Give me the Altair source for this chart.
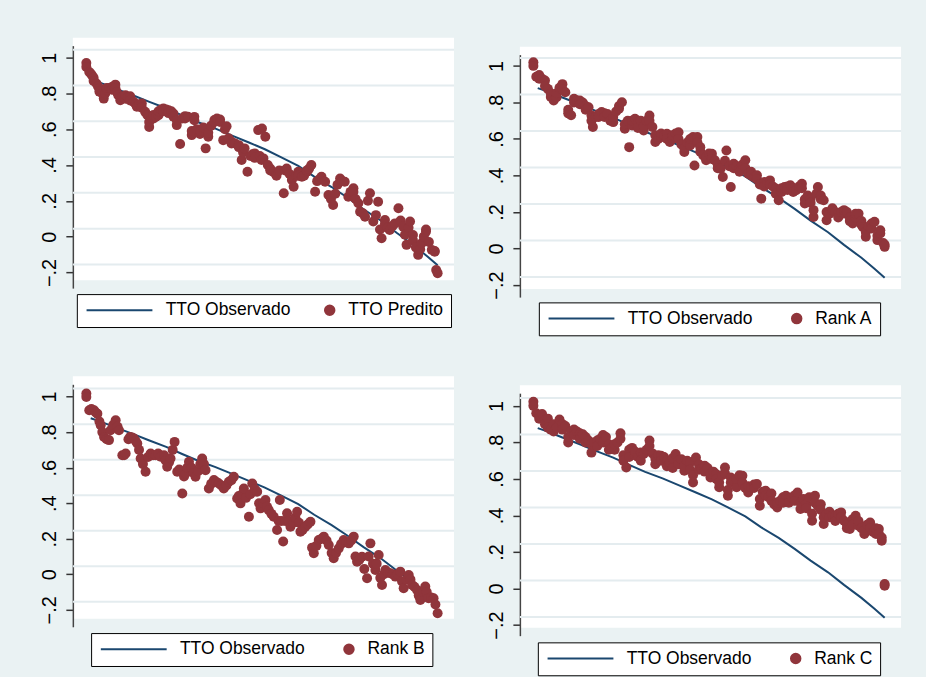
import altair as alt
import pandas as pd

BG = "#EAF2F3"
GRID = "#E4ECEF"
NAVY = "#1a476f"
MAROON = "#90353b"
FONT = "Liberation Sans"

tick_values = [-0.2, 0.0, 0.2, 0.4, 0.6, 0.8, 1.0]

# TTO observado (same observed series in every panel), by state rank
obs_rank = [4, 10, 21, 33, 44, 56, 67, 78, 90, 101, 113, 124, 135, 147, 158,
            170, 181, 192, 204, 215, 227, 236, 243]
obs_value = [0.878, 0.862, 0.827, 0.790, 0.754, 0.717, 0.677, 0.639, 0.603,
             0.566, 0.526, 0.488, 0.444, 0.395, 0.335, 0.277, 0.217, 0.153,
             0.089, 0.020, -0.051, -0.111, -0.160]

# Panel 1: TTO predito
p1_rank = [1, 1, 3, 4, 5, 6, 6, 8, 9, 10, 10, 12, 13, 14, 15, 15, 17, 18.6,
           18.6, 20, 21, 21, 22, 23, 24.4, 24.4, 26, 28, 28, 30, 31.2, 31.2,
           33.5, 35, 35.8, 37.5, 39.2, 39.2, 41.5, 43, 44.3, 44.3, 46, 47.3,
           47.3, 49, 50.7, 50.7, 52.5, 54.1, 54.1, 56, 57.6, 57.6, 59.5, 61,
           61, 63.3, 63.3, 65.6, 67, 69, 69, 71, 73.6, 73.6, 75.4, 75.4, 77,
           79.3, 79.3, 81.6, 83.2, 85, 85, 87, 89.2, 89.2, 91, 93.1, 93.1,
           95.3, 96.5, 97.6, 99, 101, 101, 103.5, 106, 106, 108, 109, 110, 112,
           114, 115.5, 117, 117, 119.4, 120.5, 121.7, 122, 123, 124.3, 126,
           127.7, 127.7, 130, 132, 132, 134, 137, 138, 139, 141, 142.6, 143.8,
           145.5, 147, 147, 149.5, 151, 153, 153, 154.5, 156, 158.6, 160, 161.5,
           163, 165.5, 167.8, 169.5, 171, 172.5, 174, 175.8, 177.5, 179, 181.5,
           183, 185, 185, 186.5, 188.4, 189.6, 191.5, 193, 195, 196.4, 198.7,
           200.5, 202, 203.3, 204.4, 206.7, 206.7, 208.5, 210, 212, 213.6, 216,
           217.5, 219.3, 220.5, 221.6, 223, 224, 226, 226, 228, 229.6, 231, 232,
           233.5, 235, 235, 237, 239, 241, 241, 242, 243]
p1_value = [0.970, 0.948, 0.920, 0.911, 0.900, 0.888, 0.870, 0.855, 0.840,
            0.827, 0.810, 0.800, 0.771, 0.800, 0.818, 0.830, 0.830, 0.836,
            0.820, 0.840, 0.849, 0.830, 0.808, 0.790, 0.762, 0.780, 0.781,
            0.770, 0.790, 0.780, 0.784, 0.760, 0.753, 0.740, 0.725, 0.740,
            0.744, 0.720, 0.697, 0.680, 0.613, 0.640, 0.660, 0.660, 0.680,
            0.670, 0.678, 0.700, 0.710, 0.716, 0.700, 0.710, 0.706, 0.690,
            0.700, 0.688, 0.670, 0.623, 0.650, 0.517, 0.660, 0.673, 0.660,
            0.670, 0.567, 0.590, 0.669, 0.650, 0.600, 0.573, 0.590, 0.610,
            0.493, 0.558, 0.580, 0.620, 0.651, 0.640, 0.660, 0.654, 0.640,
            0.539, 0.600, 0.617, 0.550, 0.530, 0.520, 0.520, 0.511, 0.500,
            0.428, 0.470, 0.493, 0.362, 0.450, 0.460, 0.465, 0.440, 0.595,
            0.450, 0.428, 0.604, 0.437, 0.558, 0.400, 0.381, 0.370, 0.360,
            0.353, 0.340, 0.370, 0.242, 0.370, 0.381, 0.350, 0.316, 0.279,
            0.340, 0.362, 0.340, 0.335, 0.340, 0.362, 0.370, 0.380, 0.400,
            0.251, 0.310, 0.320, 0.335, 0.307, 0.232, 0.210, 0.177, 0.240,
            0.290, 0.325, 0.310, 0.307, 0.223, 0.250, 0.270, 0.250, 0.210,
            0.186, 0.139, 0.130, 0.111, 0.200, 0.242, 0.084, 0.120, 0.195,
            0.040, -0.009, 0.093, 0.070, 0.050, 0.037, 0.060, 0.074, 0.158,
            0.090, 0.056, 0.010, -0.046, 0.050, 0.084, 0.009, -0.020, -0.060,
            -0.102, -0.070, -0.037, 0.000, 0.028, 0.040, -0.030, -0.074,
            -0.084, -0.080, -0.186, -0.204]

# Panel 2: Rank A
p2_rank = [1, 1, 3, 5, 5, 7, 9, 9, 11, 13, 13, 15, 17, 17, 19, 21, 21, 23, 25,
           25, 27, 29, 29, 31, 33, 33, 35, 37, 37, 39, 41, 41, 42, 44, 46, 46,
           48, 50, 50, 52, 54, 56, 56, 58, 60, 60, 62, 64, 64, 66, 67, 69, 69,
           71, 73, 73, 75, 77, 77, 79, 81, 81, 83, 85, 85, 87, 89, 89, 91, 93,
           93, 95, 97, 97, 99, 101, 101, 103, 105, 105, 107, 109, 109, 111, 112,
           114, 114, 116, 116, 118, 120, 120, 122, 124, 124, 126, 128, 128, 130,
           131.5, 133, 134, 136, 137, 139, 139, 141, 143, 143, 145, 147, 147,
           149, 151, 151, 153, 155, 155, 157, 158, 160, 160, 162, 164, 164, 166,
           168, 168, 170, 172, 172, 174, 176, 176, 178, 180, 180, 182, 184, 186,
           186, 188, 188, 190, 192, 192, 194, 194, 196, 197, 199, 199, 201, 203,
           203, 205, 207, 207, 209, 211, 211, 213, 215, 215, 217, 219, 219, 221,
           223, 223, 225, 227, 227, 228, 230, 230, 232, 234, 234, 236, 238, 238,
           240, 240, 242, 243, 243]
p2_value = [1.020, 1.000, 0.940, 0.930, 0.950, 0.930, 0.920, 0.890, 0.874,
            0.830, 0.850, 0.810, 0.828, 0.850, 0.880, 0.900, 0.870, 0.856,
            0.740, 0.760, 0.730, 0.820, 0.800, 0.810, 0.810, 0.790, 0.800,
            0.780, 0.760, 0.774, 0.728, 0.700, 0.665, 0.720, 0.737, 0.720,
            0.747, 0.740, 0.720, 0.737, 0.700, 0.692, 0.720, 0.750, 0.765,
            0.780, 0.801, 0.656, 0.680, 0.700, 0.555, 0.674, 0.700, 0.710,
            0.690, 0.660, 0.700, 0.646, 0.670, 0.700, 0.728, 0.700, 0.665,
            0.620, 0.583, 0.600, 0.610, 0.630, 0.620, 0.628, 0.600, 0.583,
            0.600, 0.620, 0.630, 0.637, 0.600, 0.570, 0.528, 0.550, 0.580,
            0.564, 0.600, 0.610, 0.455, 0.610, 0.580, 0.555, 0.530, 0.510,
            0.483, 0.500, 0.520, 0.519, 0.490, 0.483, 0.460, 0.440, 0.437,
            0.391, 0.480, 0.537, 0.450, 0.337, 0.464, 0.440, 0.450, 0.437,
            0.420, 0.460, 0.483, 0.440, 0.410, 0.420, 0.400, 0.390, 0.401,
            0.380, 0.350, 0.273, 0.364, 0.340, 0.360, 0.373, 0.350, 0.340,
            0.328, 0.300, 0.264, 0.310, 0.330, 0.337, 0.340, 0.320, 0.346,
            0.330, 0.310, 0.319, 0.340, 0.355, 0.330, 0.246, 0.270, 0.290,
            0.273, 0.250, 0.173, 0.210, 0.300, 0.337, 0.290, 0.270, 0.264,
            0.200, 0.155, 0.190, 0.209, 0.220, 0.200, 0.191, 0.170, 0.200,
            0.191, 0.210, 0.200, 0.170, 0.150, 0.137, 0.170, 0.190, 0.191,
            0.150, 0.130, 0.118, 0.064, 0.090, 0.120, 0.137, 0.110, 0.146,
            0.046, 0.070, 0.082, 0.100, 0.030, 0.009, 0.020]

# Panel 3: Rank B
p3_rank = [1, 1, 3, 4.5, 6.3, 7.5, 8.6, 10, 10.9, 12, 13.2, 15, 16.6, 17.7,
           19.5, 21.2, 22.5, 23.5, 25.8, 27, 28.1, 30, 31.1, 32.5, 33.8, 35,
           36.1, 37.3, 38.4, 40, 41.8, 43.5, 45.3, 47, 48.7, 50.5, 52.2, 54.5,
           55.6, 56.7, 58, 59, 60.5, 61.8, 63.6, 65, 67.1, 68.3, 69.4, 70.5,
           71.7, 73.5, 75, 76.2, 78, 79.5, 80.8, 82, 83.1, 85.4, 87, 88.9, 90.5,
           92.3, 94, 95.7, 97.5, 99.2, 101, 102.6, 104.9, 106, 107.2, 108.3,
           109.5, 111, 113, 114, 115.3, 117, 118.7, 120, 121, 122.7, 124.4,
           125.5, 126.7, 128.5, 130.1, 132.4, 133.5, 134.3, 135.5, 136.6, 138,
           139.3, 140.5, 141.6, 143.5, 145, 146.2, 147.5, 148.5, 150, 151.9,
           153.5, 155.4, 156.5, 157.7, 159.5, 161.1, 163, 164.6, 166.5, 168,
           170, 171.4, 173, 174.9, 176.5, 178.3, 180, 181.8, 183.5, 185.2,
           186.4, 187.5, 189, 190.9, 192.5, 194.4, 195.5, 196.7, 198.5, 200.1,
           201, 202.4, 203.5, 204.7, 206, 207, 208.8, 210.4, 212, 213.9, 215.5,
           217.3, 218.5, 219.6, 221.5, 223.1, 224.3, 225.4, 227, 228.8, 230,
           231.1, 233, 234.5, 235.5, 236.8, 238.5, 240.2, 241.5, 243]
p3_value = [1.017, 0.998, 0.923, 0.930, 0.923, 0.910, 0.904, 0.860, 0.839,
            0.800, 0.773, 0.760, 0.755, 0.811, 0.840, 0.867, 0.830, 0.811,
            0.670, 0.670, 0.680, 0.760, 0.773, 0.770, 0.764, 0.750, 0.736,
            0.700, 0.652, 0.620, 0.577, 0.660, 0.680, 0.670, 0.670, 0.680,
            0.661, 0.670, 0.640, 0.605, 0.630, 0.652, 0.700, 0.745, 0.577,
            0.590, 0.455, 0.550, 0.567, 0.600, 0.633, 0.600, 0.570, 0.549,
            0.580, 0.620, 0.652, 0.620, 0.586, 0.483, 0.510, 0.530, 0.520,
            0.511, 0.500, 0.483, 0.500, 0.521, 0.530, 0.549, 0.427, 0.440,
            0.399, 0.450, 0.483, 0.430, 0.324, 0.450, 0.511, 0.480, 0.464,
            0.400, 0.371, 0.400, 0.418, 0.380, 0.361, 0.340, 0.324, 0.249,
            0.300, 0.418, 0.300, 0.184, 0.300, 0.343, 0.300, 0.268, 0.290,
            0.320, 0.352, 0.290, 0.240, 0.250, 0.268, 0.280, 0.296, 0.150,
            0.118, 0.160, 0.193, 0.200, 0.212, 0.190, 0.165, 0.120, 0.090,
            0.120, 0.146, 0.170, 0.193, 0.180, 0.174, 0.190, 0.212, 0.100,
            0.071, 0.080, 0.099, 0.030, -0.022, 0.100, 0.174, 0.060, 0.024,
            0.060, 0.109, -0.020, -0.060, 0.000, 0.024, 0.010, 0.006, 0.000,
            -0.013, 0.000, 0.015, -0.040, -0.079, -0.030, -0.004, -0.030,
            -0.060, -0.070, -0.088, -0.120, -0.144, -0.100, -0.069, -0.100,
            -0.135, -0.130, -0.135, -0.170, -0.219]

# Panel 4: Rank C
p4_rank = [1, 1, 3, 5, 5, 7, 9, 9, 11, 11, 13, 15, 15, 17, 19, 21, 21, 23, 25,
           25, 27, 29, 29, 31, 33, 33, 35, 37, 37, 39, 41, 41, 43, 45, 45, 47,
           49, 49, 51, 53, 53, 55, 57, 57, 59, 61, 61, 63, 63, 65, 67, 67, 69,
           71, 71, 73, 75, 75, 77, 79, 81, 81, 83, 85, 85, 87, 89, 89, 91, 93,
           93, 95, 97, 97, 99, 101, 101, 103, 105, 105, 107, 109, 109, 111, 111,
           113, 115, 115, 117, 119, 119, 121, 123, 123, 125, 127, 127, 129, 129,
           131, 133, 133, 135, 135, 137, 137, 139, 141, 141, 143, 145, 145, 147,
           149, 149, 151, 153, 153, 155, 157, 157, 159, 161, 161, 163, 165, 165,
           167, 169, 169, 171, 173, 173, 175, 177, 177, 179, 181, 181, 183, 185,
           185, 187, 189, 189, 191, 193, 193, 195, 195, 197, 199, 199, 201, 201,
           203, 205, 205, 207, 209, 209, 211, 213, 213, 215, 217, 217, 219, 221,
           221, 223, 225, 225, 227, 229, 229, 231, 233, 233, 235, 237, 237, 239,
           239, 241, 241, 243, 243]
p4_value = [1.023, 1.000, 0.960, 0.950, 0.930, 0.955, 0.920, 0.900, 0.930,
            0.880, 0.870, 0.900, 0.860, 0.880, 0.925, 0.900, 0.870, 0.890,
            0.800, 0.830, 0.860, 0.870, 0.840, 0.860, 0.850, 0.820, 0.845,
            0.800, 0.830, 0.810, 0.744, 0.790, 0.800, 0.810, 0.780, 0.820,
            0.840, 0.800, 0.830, 0.790, 0.760, 0.770, 0.760, 0.790, 0.800,
            0.850, 0.820, 0.730, 0.700, 0.663, 0.760, 0.720, 0.770, 0.730,
            0.750, 0.720, 0.745, 0.700, 0.736, 0.760, 0.810, 0.780, 0.740,
            0.680, 0.710, 0.730, 0.727, 0.700, 0.720, 0.700, 0.670, 0.690,
            0.715, 0.660, 0.736, 0.700, 0.680, 0.708, 0.645, 0.670, 0.700,
            0.690, 0.650, 0.581, 0.620, 0.717, 0.680, 0.650, 0.654, 0.672,
            0.640, 0.660, 0.608, 0.630, 0.640, 0.626, 0.600, 0.554, 0.580,
            0.620, 0.663, 0.630, 0.508, 0.540, 0.608, 0.580, 0.590, 0.554,
            0.600, 0.620, 0.617, 0.580, 0.550, 0.526, 0.560, 0.554, 0.570,
            0.550, 0.572, 0.453, 0.490, 0.530, 0.535, 0.510, 0.500, 0.520,
            0.480, 0.460, 0.444, 0.470, 0.481, 0.500, 0.470, 0.508, 0.490,
            0.470, 0.499, 0.510, 0.480, 0.526, 0.435, 0.470, 0.490, 0.462,
            0.440, 0.500, 0.371, 0.410, 0.508, 0.470, 0.450, 0.462, 0.430,
            0.353, 0.390, 0.408, 0.420, 0.390, 0.400, 0.399, 0.370, 0.410,
            0.417, 0.390, 0.371, 0.350, 0.330, 0.326, 0.380, 0.350, 0.399,
            0.344, 0.370, 0.330, 0.299, 0.320, 0.350, 0.362, 0.330, 0.310,
            0.299, 0.330, 0.326, 0.300, 0.262, 0.280, 0.025, 0.016]

panels = [
    dict(label="TTO Predito", ranks=p1_rank, values=p1_value,
         ydom=[-0.2876, 1.0669], lx=4, ly=257, colpad=-24, ext=40),
    dict(label="Rank A", ranks=p2_rank, values=p2_value,
         ydom=[-0.2661, 1.0617], lx=19, ly=256.3, colpad=-19, ext=40),
    dict(label="Rank B", ranks=p3_rank, values=p3_value,
         ydom=[-0.2953, 1.069], lx=18.3, ly=257.3, colpad=-19, ext=36),
    dict(label="Rank C", ranks=p4_rank, values=p4_value,
         ydom=[-0.2578, 1.0694], lx=18, ly=257.7, colpad=-19, ext=36),
]

OBS = "TTO Observado"
# legend key glyphs (unit = sqrt(symbolSize)/2 px): a long line key and a dot key
KEY_LINE = "M-1.37,0H12.54"
KEY_DOT = "M10.42,0A1,1 0 1,1 12.42,0A1,1 0 1,1 10.42,0Z"


def make_panel(p):
    line_df = pd.DataFrame({"rank": obs_rank, "value": obs_value, "serie": OBS})
    pts_df = pd.DataFrame({"rank": p["ranks"], "value": p["values"], "serie": p["label"]})
    grid_df = pd.DataFrame({"value": tick_values})
    key_df = pd.DataFrame({"rank": [None, None], "value": [None, None],
                           "serie": [OBS, p["label"]]})

    xs = alt.Scale(domain=[-8.3, 254.3], nice=False, zero=False)
    ys = alt.Scale(domain=p["ydom"], nice=False, zero=False)
    yaxis = alt.Axis(
        values=tick_values,
        labelExpr="datum.value == 0 ? '0' : datum.value == 1 ? '1' : replace(format(datum.value, '.1f'), '0.', '.')",
        labelAngle=270, labelAlign="center", labelBaseline="bottom",
        labelFont=FONT, labelFontSize=20, labelColor="black", labelPadding=6,
        grid=False, tickSize=7, tickWidth=1.5, tickColor="#333333",
        domainColor="#444444", domainWidth=1.5,
        translate=8.5, offset=8,
        minExtent=p["ext"], maxExtent=p["ext"], title=None,
    )
    legend = alt.Legend(
        title=None, orient="none", legendX=p["lx"], legendY=p["ly"],
        direction="horizontal", fillColor="white", strokeColor="black",
        padding=7.5, labelFont=FONT, labelFontSize=17.5, labelColor="black",
        labelOffset=64, columnPadding=p["colpad"], gridAlign="none",
        symbolSize=90, symbolStrokeWidth=2, symbolOpacity=1,
    )
    domain = [OBS, p["label"]]
    color = alt.Color("serie:N", scale=alt.Scale(domain=domain, range=[NAVY, MAROON]),
                      legend=legend)
    shape = alt.Shape("serie:N", scale=alt.Scale(domain=domain, range=[KEY_LINE, KEY_DOT]),
                      legend=legend)

    grid = alt.Chart(grid_df).mark_rule(color=GRID, strokeWidth=2).encode(
        y=alt.Y("value:Q", scale=ys, axis=yaxis))
    line = alt.Chart(line_df).mark_line(strokeWidth=2, yOffset=8).encode(
        x=alt.X("rank:Q", scale=xs, axis=None),
        y=alt.Y("value:Q", scale=ys, axis=yaxis),
        color=color)
    pts = alt.Chart(pts_df).mark_circle(size=100, opacity=1, yOffset=8).encode(
        x=alt.X("rank:Q", scale=xs, axis=None),
        y=alt.Y("value:Q", scale=ys, axis=yaxis),
        color=color)
    keys = alt.Chart(key_df).mark_point(filled=True, opacity=1, size=90).encode(
        x=alt.X("rank:Q", scale=xs, axis=None),
        y=alt.Y("value:Q", scale=ys, axis=yaxis),
        color=color, shape=shape)
    return alt.layer(grid, line, pts, keys).properties(width=382, height=243)


RES = dict(color="independent", shape="independent", x="independent", y="independent")
c = [make_panel(p) for p in panels]

# empty band that drops the right-hand column a few pixels, as in the original layout
gap = alt.Chart(pd.DataFrame({"v": []})).mark_point().encode(
    x=alt.value(0), y=alt.value(0)
).properties(width=382, height=8.4, view=alt.ViewBackground(fill=BG, strokeWidth=0))

col1 = alt.vconcat(c[0], c[2], spacing=48.4).resolve_scale(**RES)
col2 = alt.vconcat(
    alt.vconcat(gap, c[1], spacing=0).resolve_scale(**RES),
    c[3], spacing=49.3,
).resolve_scale(**RES)
chart = alt.hconcat(col1, col2, spacing=17).resolve_scale(**RES).configure(
    background=BG,
    padding={"left": 25, "top": 37, "right": 24, "bottom": 2},
).configure_view(fill="white", strokeWidth=0)

chart.save("out.html", embed_options={"renderer": "svg", "actions": False})
